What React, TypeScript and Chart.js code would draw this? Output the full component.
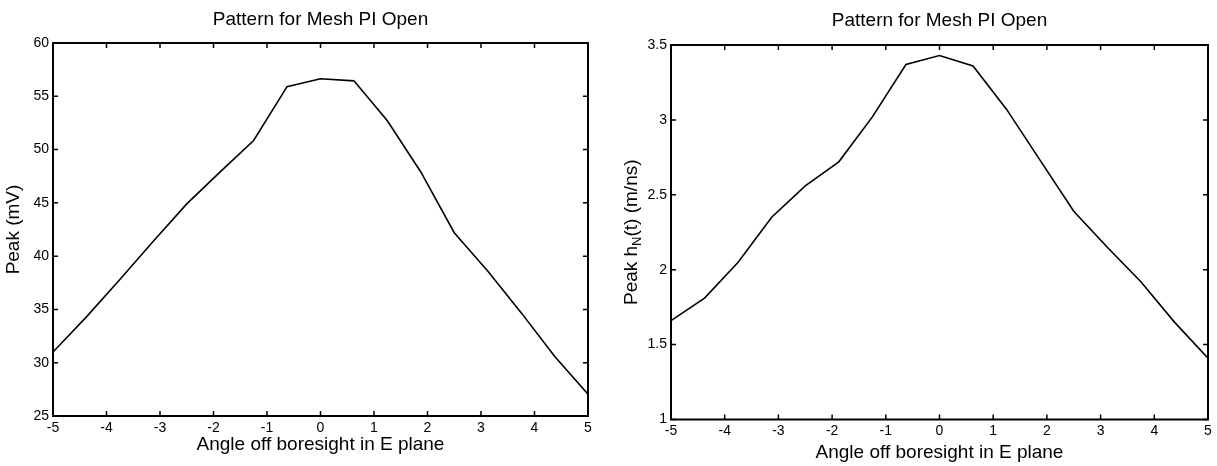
import React, { useEffect, useRef } from 'react';
import { Chart, registerables } from 'chart.js';

Chart.register(...registerables);

// ---- data ----
const angles = [-5, -4.375, -3.75, -3.125, -2.5, -1.875, -1.25, -0.625, 0, 0.625, 1.25, 1.875, 2.5, 3.125, 3.75, 4.375, 5];
const peakMv = [31.0, 34.3, 37.8, 41.4, 44.9, 47.9, 50.85, 55.9, 56.65, 56.45, 52.7, 47.9, 42.2, 38.6, 34.7, 30.6, 27.05];
const peakHn = [1.66, 1.81, 2.05, 2.35, 2.56, 2.72, 3.02, 3.37, 3.43, 3.36, 3.07, 2.73, 2.39, 2.15, 1.92, 1.65, 1.41];
const xTicks = [-5, -4, -3, -2, -1, 0, 1, 2, 3, 4, 5];
const mvTicks = [25, 30, 35, 40, 45, 50, 55, 60];
const hnTicks = [1, 1.5, 2, 2.5, 3, 3.5];
const chartTitle = 'Pattern for Mesh PI Open';
const xTitle = 'Angle off boresight in E plane';
const leftYTitle = 'Peak (mV)';
const rightYTitleParts = ['Peak h', 'N', '(t) (m/ns)'];

const FONT = "'Liberation Sans', Arial, Helvetica, sans-serif";
const TICK_SIZE = 14;

const framePlugin = {
  id: 'matlabFrame',
  afterDraw(chart: any, _args: any, opts: any) {
    const { ctx, chartArea: a, scales } = chart;
    ctx.save();
    ctx.strokeStyle = '#000';
    ctx.lineWidth = 1.5;
    const tl = 5;
    ctx.beginPath();
    for (const t of scales.x.ticks) {
      const px = scales.x.getPixelForValue(t.value);
      ctx.moveTo(px, a.bottom);
      ctx.lineTo(px, a.bottom - tl);
      ctx.moveTo(px, a.top);
      ctx.lineTo(px, a.top + tl);
    }
    for (const t of scales.y.ticks) {
      const py = scales.y.getPixelForValue(t.value);
      ctx.moveTo(a.left, py);
      ctx.lineTo(a.left + tl, py);
      ctx.moveTo(a.right, py);
      ctx.lineTo(a.right - tl, py);
    }
    ctx.stroke();
    ctx.lineWidth = 2;
    ctx.strokeRect(a.left, a.top, a.right - a.left, a.bottom - a.top);

    if (opts && opts.parts) {
      const { parts, x, size, subSize, subShift } = opts;
      const mainFont = `${size}px ${FONT}`;
      const subFont = `${subSize}px ${FONT}`;
      ctx.font = mainFont;
      const w0 = ctx.measureText(parts[0]).width;
      const w2 = ctx.measureText(parts[2]).width;
      ctx.font = subFont;
      const w1 = ctx.measureText(parts[1]).width;
      const total = w0 + w1 + w2;
      const cy = (a.top + a.bottom) / 2;
      ctx.translate(x, cy);
      ctx.rotate(-Math.PI / 2);
      ctx.fillStyle = '#000';
      ctx.textAlign = 'left';
      ctx.textBaseline = 'alphabetic';
      const base = size * 0.358;
      let cx = -total / 2;
      ctx.font = mainFont;
      ctx.fillText(parts[0], cx, base);
      cx += w0;
      ctx.font = subFont;
      ctx.fillText(parts[1], cx, base + subShift);
      cx += w1;
      ctx.font = mainFont;
      ctx.fillText(parts[2], cx, base);
    }
    ctx.restore();
  },
};

type Spec = {
  left: number;
  width: number;
  values: number[];
  yTicks: number[];
  yMin: number;
  yMax: number;
  yWidth: number;
  xHeight: number;
  padRight: number;
  titlePad: { top: number; bottom: number };
  xTitlePadBottom: number;
  yTitle: string | null;
  yTitlePadTop: number;
  subLabel: any;
};

function MeshChart({ spec }: { spec: Spec }) {
  const ref = useRef<HTMLCanvasElement | null>(null);
  useEffect(() => {
    if (!ref.current) return;
    const data = angles.map((a, i) => ({ x: a, y: spec.values[i] }));
    const chart = new Chart(ref.current, {
      type: 'line',
      data: {
        datasets: [
          {
            data,
            borderColor: '#000',
            borderWidth: 1.6,
            pointRadius: 0,
            tension: 0,
            fill: false,
          },
        ],
      },
      options: {
        responsive: false,
        animation: false,
        devicePixelRatio: 1,
        layout: { padding: { left: 0, right: spec.padRight, top: 0, bottom: 0 } },
        plugins: {
          legend: { display: false },
          tooltip: { enabled: false },
          title: {
            display: true,
            text: chartTitle,
            color: '#000',
            font: { family: FONT, size: 19, weight: 'normal' },
            padding: spec.titlePad,
            fullSize: false,
          },
          matlabFrame: spec.subLabel,
        } as any,
        scales: {
          x: {
            type: 'linear',
            min: -5,
            max: 5,
            afterBuildTicks: (s: any) => {
              s.ticks = xTicks.map((v) => ({ value: v }));
            },
            afterFit: (s: any) => {
              s.height = spec.xHeight;
            },
            grid: { display: false, drawTicks: false },
            border: { display: false },
            ticks: {
              autoSkip: false,
              maxRotation: 0,
              padding: 3.5,
              color: '#000',
              font: { family: FONT, size: TICK_SIZE },
              callback: (v: any) => String(v),
            },
            title: {
              display: true,
              text: xTitle,
              color: '#000',
              font: { family: FONT, size: 19 },
              padding: { top: 0, bottom: spec.xTitlePadBottom },
            },
          },
          y: {
            type: 'linear',
            min: spec.yMin,
            max: spec.yMax,
            afterBuildTicks: (s: any) => {
              s.ticks = spec.yTicks.map((v) => ({ value: v }));
            },
            afterFit: (s: any) => {
              s.width = spec.yWidth;
            },
            grid: { display: false, drawTicks: false },
            border: { display: false },
            ticks: {
              autoSkip: false,
              padding: 4,
              color: '#000',
              font: { family: FONT, size: TICK_SIZE },
              callback: (v: any) => String(v),
            },
            title: {
              display: !!spec.yTitle,
              text: spec.yTitle || '',
              color: '#000',
              font: { family: FONT, size: 19 },
              padding: { top: spec.yTitlePadTop, bottom: 0 },
            },
          },
        },
      } as any,
      plugins: [framePlugin as any],
    });
    return () => chart.destroy();
  }, [spec]);
  return (
    <canvas
      ref={ref}
      width={spec.width}
      height={466}
      style={{ position: 'absolute', left: spec.left, top: 0, width: spec.width, height: 466 }}
    />
  );
}

const leftSpec: Spec = {
  left: 0,
  width: 608,
  values: peakMv,
  yTicks: mvTicks,
  yMin: 25,
  yMax: 60,
  yWidth: 53,
  xHeight: 50,
  padRight: 20,
  titlePad: { top: 7.9, bottom: 12.3 },
  xTitlePadBottom: 9.8,
  yTitle: leftYTitle,
  yTitlePadTop: 2.6,
  subLabel: {},
};

const rightSpec: Spec = {
  left: 608,
  width: 609,
  values: peakHn,
  yTicks: hnTicks,
  yMin: 1,
  yMax: 3.5,
  yWidth: 63,
  xHeight: 46.5,
  padRight: 9,
  titlePad: { top: 9.6, bottom: 12.6 },
  xTitlePadBottom: 1.8,
  yTitle: null,
  yTitlePadTop: 0,
  subLabel: { parts: rightYTitleParts, x: 22, size: 19, subSize: 13, subShift: 4 },
};

export default function App() {
  return (
    <div style={{ position: 'fixed', left: 0, top: 0, width: 1217, height: 466, background: '#fff' }}>
      <MeshChart spec={leftSpec} />
      <MeshChart spec={rightSpec} />
    </div>
  );
}
